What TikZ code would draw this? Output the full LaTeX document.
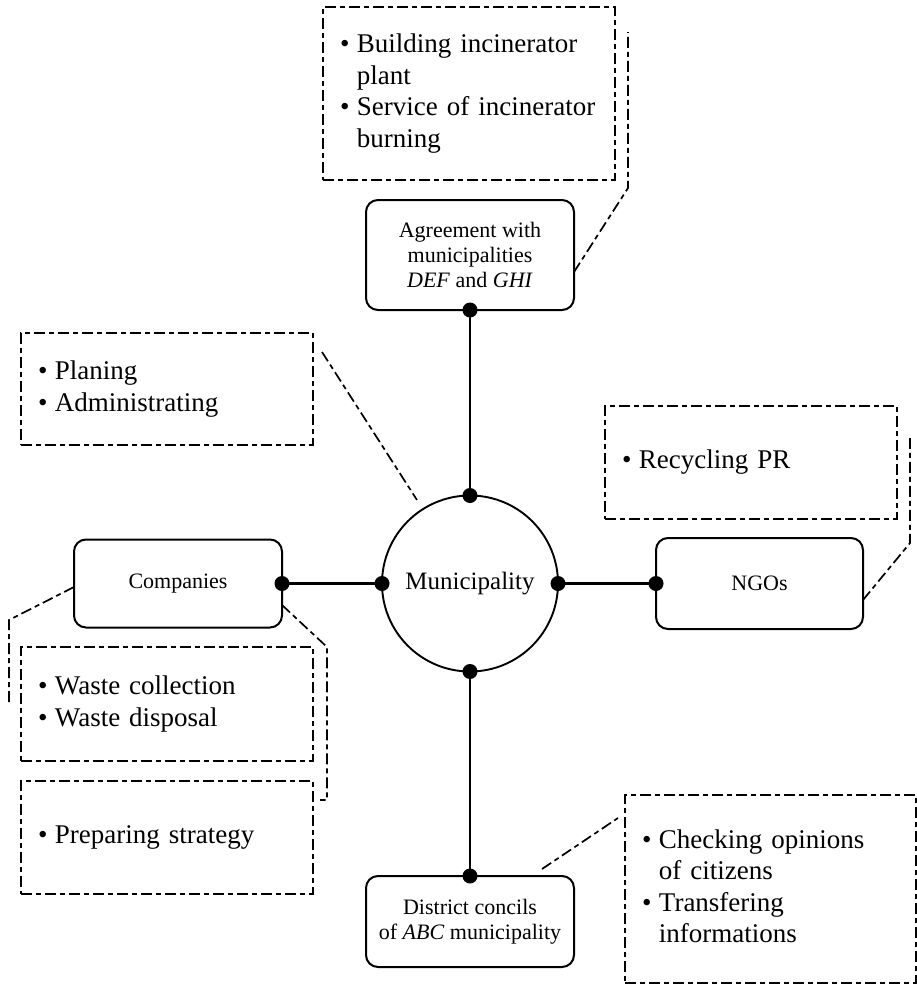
\documentclass[tikz,border=0pt]{standalone}
\usepackage{fontspec}
\setmainfont{Liberation Serif}
\newcommand\notefont{\fontsize{27}{31.5}\selectfont}
\newcommand\partyfont{\fontsize{22}{25}\selectfont}
\newcommand\hubfont{\fontsize{25}{28}\selectfont}
% bullet list with manual line breaks
\newenvironment{bul}{\begin{tabular}{@{}l@{\hspace{7.5pt}}l@{}}}{\end{tabular}}
\newcommand\bi{\textbullet}

\begin{document}
\begin{tikzpicture}[x=1pt,y=-1pt,
  every node/.style={inner sep=0pt,outer sep=0pt},
  hub/.style={circle,draw,line width=1.9pt,minimum size=176pt,font=\hubfont},
  party/.style={rectangle,rounded corners=12pt,draw,line width=2pt,align=center,font=\partyfont},
  dashpat/.style={dash pattern=on 11pt off 4pt on 5pt off 4pt},
  notebox/.style={draw,dashpat,line width=1.8pt,inner xsep=17pt,font=\notefont,align=left},
  callout/.style={dashpat,line width=1.7pt},
  link/.style={line width=2.4pt}]
\useasboundingbox (0,0) rectangle (917,988);

% central actor and its partners
\node[hub] (mun) at (470,583.5) {Municipality};
\node[party,minimum width=208pt,minimum height=110pt] (agr) at (470,255)
  {Agreement with\\municipalities\\\textit{DEF} and \textit{GHI}};
\node[party,minimum width=208pt,minimum height=88pt] (com) at (178,583.5) {Companies};
\node[party,minimum width=207pt,minimum height=91pt] (ngo) at (759.5,583.5) {NGOs};
\node[party,minimum width=208pt,minimum height=91pt] (dis) at (470,921.5)
  {District concils\\of \textit{ABC} municipality};

% links with end dots
\draw[link] (agr.south) -- (mun.north);
\draw[link] (com.east) -- (mun.west);
\draw[link] (mun.east) -- (ngo.west);
\draw[link] (mun.south) -- (dis.north);
\foreach \p in {agr.south,mun.north,com.east,mun.west,mun.east,ngo.west,mun.south,dis.north}
  \fill (\p) circle (7.5pt);

% task lists
\node[notebox,text width=258pt,minimum height=173pt] (nA) at (469,93.5)
  {\begin{bul}\bi & Building incinerator\\ & plant\\ \bi & Service of incinerator\\ & burning\end{bul}};
\node[notebox,text width=258pt,minimum height=112pt] (nB) at (167,389)
  {\begin{bul}\bi & Planing\\ \bi & Administrating\end{bul}};
\node[notebox,text width=258pt,minimum height=113pt] (nC) at (751,462.5)
  {\begin{bul}\bi & Recycling PR\end{bul}};
\node[notebox,text width=258pt,minimum height=114pt] (nD) at (167,704)
  {\begin{bul}\bi & Waste collection\\ \bi & Waste disposal\end{bul}};
\node[notebox,text width=258pt,minimum height=113pt] (nE) at (167,837.5)
  {\begin{bul}\bi & Preparing strategy\end{bul}};
\node[notebox,text width=257pt,minimum height=188pt] (nF) at (770.5,889)
  {\begin{bul}\bi & Checking opinions\\ & of citizens\\ \bi & Transfering\\ & informations\end{bul}};

% callout leaders
\coordinate (cA1) at (628,188);
\coordinate (cA2) at (628,32);
\draw[callout] ([yshift=-17pt]agr.east) -- (cA1) -- (cA2);

\coordinate (cB1) at (322,352);
\coordinate (cB2) at (417,500);
\draw[callout] (cB1) -- (cB2);

\coordinate (cC1) at (910,543);
\coordinate (cC2) at (910,438);
\draw[callout] ([yshift=-16.5pt]ngo.east) -- (cC1) -- (cC2);

\coordinate (cL1) at (9,620);
\coordinate (cL2) at (9,703);
\draw[callout] ([yshift=-3.5pt]com.west) -- (cL1) -- (cL2);

\coordinate (cR1) at (327,647);
\coordinate (cR2) at (327,800);
\coordinate (cR3) at (320,800);
\draw[callout] ([yshift=-21.5pt]com.east) -- (cR1) -- (cR2) -- (cR3);

\coordinate (cF1) at (542,869);
\coordinate (cF2) at (618,818);
\draw[callout] (cF1) -- (cF2);
\end{tikzpicture}
\end{document}
